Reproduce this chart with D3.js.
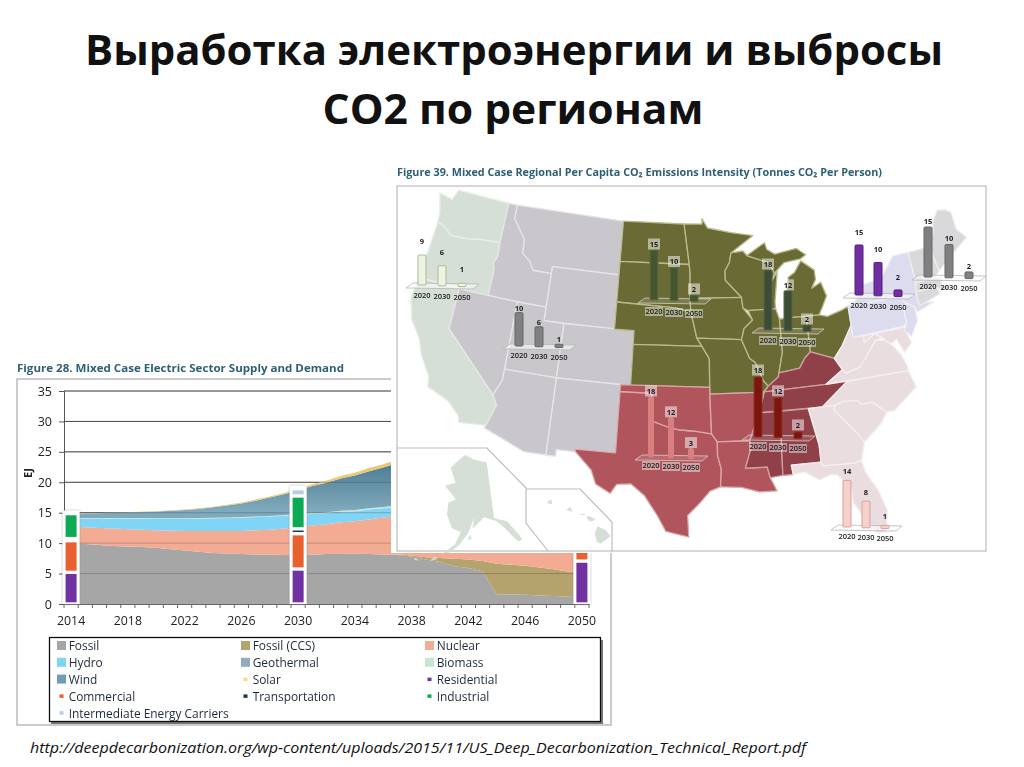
<!DOCTYPE html>
<html><head><meta charset="utf-8">
<script src="https://cdn.jsdelivr.net/npm/d3@7"></script>
<style>html,body{margin:0;padding:0;background:#fff}svg{display:block}text{font-family:"Open Sans",sans-serif}</style>
</head><body><svg id="c" width="1024" height="767"></svg>
<script>
// ---------- electric sector chart data (EJ) ----------
const years = d3.range(2014, 2051);
const tickYears = [2014,2018,2022,2026,2030,2034,2038,2042,2046,2050];
const yTicks = [0,5,10,15,20,25,30,35];
const fossil = [10.0,9.85,9.7,9.55,9.45,9.35,9.25,9.0,8.8,8.6,8.4,8.3,8.2,8.15,8.1,8.05,8.0,8.1,8.2,8.22,8.25,8.2,8.15,8.05,7.8,7.3,6.9,6.2,5.9,5.4,1.6,1.55,1.5,1.4,1.3,1.2,1.1];
const fossilCCS = [0,0,0,0,0,0,0,0,0,0,0,0,0,0,0,0,0,0,0,0,0,0,0,0.1,0.15,0.4,0.65,1.25,1.4,1.65,5.0,4.9,4.8,4.6,4.4,4.15,3.9];
const nuclear = [2.7,2.75,2.8,2.85,2.85,2.85,2.85,3.05,3.2,3.4,3.6,3.7,3.8,3.95,4.1,4.35,4.6,4.8,4.9,5.2,5.35,5.7,6.05,6.3,6.5,6.8,6.9,6.8,6.7,6.6,6.5,6.3,6,5.7,5.4,5.1,4.8];
const hydro = [1.3,1.4,1.5,1.6,1.7,1.8,1.85,1.9,1.95,2,2.05,2.1,2.15,2.15,2.15,2.1,2.0,1.9,1.8,1.7,1.6,1.6,1.5,1.5,1.5,1.5,1.5,1.5,1.5,1.5,1.5,1.5,1.5,1.5,1.5,1.5,1.5];
const geothermal = [0.03,0.03,0.03,0.03,0.03,0.03,0.03,0.03,0.03,0.03,0.03,0.03,0.03,0.03,0.03,0.03,0.03,0.03,0.03,0.03,0.03,0.03,0.03,0.03,0.03,0.03,0.03,0.03,0.03,0.03,0.03,0.03,0.03,0.03,0.03,0.03,0.03];
const biomass = [0.1,0.1,0.1,0.1,0.1,0.1,0.1,0.1,0.1,0.1,0.1,0.1,0.1,0.1,0.1,0.1,0.12,0.14,0.16,0.18,0.2,0.2,0.2,0.2,0.2,0.2,0.2,0.2,0.2,0.2,0.2,0.2,0.2,0.2,0.2,0.2,0.2];
const wind = [0.7,0.75,0.8,0.85,0.9,1.0,1.1,1.25,1.35,1.5,1.7,1.95,2.25,2.6,3.0,3.4,3.9,4.4,4.85,5.3,5.7,6.1,6.5,7,7.5,8,8.5,9,9.5,10,10.5,11,11.5,12,12.5,13,13.5];
const solar = [0,0.02,0.03,0.04,0.05,0.06,0.07,0.08,0.09,0.1,0.12,0.14,0.16,0.18,0.2,0.22,0.25,0.3,0.35,0.4,0.45,0.5,0.55,0.6,0.7,0.8,0.9,1,1.1,1.2,1.3,1.4,1.5,1.6,1.7,1.8,1.9];

const demandYears = [2014,2030,2050];
const residential = [5.2,5.75,7.05];
const commercial = [5.2,5.8,5.5];
const transportation = [0.35,0.8,3.0];
const industrial = [4.1,5.4,5.5];
const carriers = [0,1.2,2.0];

const supplyNames = ["Fossil","Fossil (CCS)","Nuclear","Hydro","Geothermal","Biomass","Wind","Solar"];
const supplySeries = [fossil,fossilCCS,nuclear,hydro,geothermal,biomass,wind,solar];
const supplyColors = ["#a6a6a6","#b5a36e","#f3ab94","#80d5f7","#93a9be","#c4e7d0","url(#windGrad)","#ecc876"];
const demandNames = ["Residential","Commercial","Transportation","Industrial","Intermediate Energy Carriers"];
const demandSeries = [residential,commercial,transportation,industrial,carriers];
const demandColors = ["#7030a0","#e8602f","#17375e","#0eaa52","#b8cce4"];

const legendNames = ["Fossil","Fossil (CCS)","Nuclear","Hydro","Geothermal","Biomass","Wind","Solar","Residential","Commercial","Transportation","Industrial","Intermediate Energy Carriers"];
const legendColors = ["#a6a6a6","#b5a36e","#f3ab94","#80d5f7","#93a9be","#c4e7d0","#6f9db1","#f6dc8a","#7030a0","#e8602f","#17375e","#0eaa52","#b8cce4"];
const legendIsArea = [1,1,1,1,1,1,1,0,0,0,0,0,0];

// ---------- map data: per-capita CO2 by region ----------
const barYears = ["2020","2030","2050"];
const pacificCO2 = [9,6,1];
const mountainCO2 = [10,6,1];
const westNorthCentralCO2 = [15,10,2];
const eastNorthCentralCO2 = [18,12,2];
const midAtlanticCO2 = [15,10,2];
const newEnglandCO2 = [15,10,2];
const westSouthCentralCO2 = [18,12,3];
const eastSouthCentralCO2 = [18,12,2];
const southAtlanticCO2 = [14,8,1];

const regionBars = [
 {values:pacificCO2,xs:[422,442,462],base:285,yearY:298,fill:"#eef3e2",stroke:"#a9bd93",boxed:false,gap:14,w:8},
 {values:mountainCO2,xs:[519,539,559],base:346,yearY:358,fill:"#808080",stroke:"#666",boxed:false,gap:5,w:8},
 {values:westNorthCentralCO2,xs:[654,674,694],base:300,yearY:314,fill:"#45552f",stroke:"#5d6d45",boxed:true,gap:6,w:8},
 {values:eastNorthCentralCO2,xs:[768,788,807],base:330,yearY:343,fill:"#3c4e34",stroke:"#55654a",boxed:true,gap:6,w:8},
 {values:midAtlanticCO2,xs:[859,878,898],base:295,yearY:308,fill:"#6f2da0",stroke:"#56207f",boxed:false,gap:13,w:8},
 {values:newEnglandCO2,xs:[928,949,969],base:277,yearY:289,fill:"#808080",stroke:"#666",boxed:false,gap:6,w:8},
 {values:westSouthCentralCO2,xs:[651,671,691],base:457,yearY:468,fill:"#d97f7f",stroke:"#d97f7f",boxed:true,gap:6,w:5},
 {values:eastSouthCentralCO2,xs:[758,778,798],base:437,yearY:449,fill:"#7a1510",stroke:"#93302a",boxed:true,gap:7,w:8},
 {values:southAtlanticCO2,xs:[847,866,885],base:527,yearY:539,fill:"#f6d0cb",stroke:"#d9a19b",boxed:false,gap:9,w:8}
];

const states = {
WA:[[[-124.7,48.4],[-123.2,48.2],[-122.8,49],[-117,49],[-117,46],[-119,45.9],[-120.5,45.7],[-122.2,45.6],[-123.4,46.2],[-124,46.3],[-124.1,47]]],
OR:[[[-124,46.3],[-123.4,46.2],[-122.2,45.6],[-120.5,45.7],[-119,45.9],[-117,46],[-116.9,45],[-117.2,44.4],[-117,44],[-117,42],[-124.2,42],[-124.5,42.8],[-124.1,44]]],
CA:[[[-124.2,42],[-120,42],[-120,39],[-114.6,35],[-114.1,34.3],[-114.7,32.7],[-117.1,32.5],[-117.3,33],[-118.4,33.8],[-119.2,34.1],[-120.6,34.5],[-120.7,35.2],[-121.9,36.6],[-122.5,37.7],[-123.7,38.9],[-124.4,40.4]]],
NV:[[[-120,42],[-114,42],[-114,36.2],[-114.6,35],[-120,39]]],
ID:[[[-117,49],[-116,49],[-116,48],[-114.5,46.6],[-114.4,45.6],[-113.5,45.1],[-113,44.5],[-111.05,44.5],[-111.05,42],[-117,42],[-117,44],[-117.2,44.4],[-116.9,45],[-117,46]]],
MT:[[[-116,49],[-104,49],[-104,45],[-111.05,45],[-111.05,44.5],[-113,44.5],[-113.5,45.1],[-114.4,45.6],[-114.5,46.6],[-116,48]]],
WY:[[[-111.05,45],[-104,45],[-104,41],[-111.05,41]]],
UT:[[[-114,42],[-111.05,42],[-111.05,41],[-109.05,41],[-109.05,37],[-114,37]]],
CO:[[[-109.05,41],[-102.05,41],[-102.05,37],[-109.05,37]]],
AZ:[[[-114,37],[-109.05,37],[-109.05,31.3],[-111,31.3],[-114.8,32.5],[-114.7,32.7],[-114.1,34.3],[-114.6,35],[-114,36.2]]],
NM:[[[-109.05,37],[-103,37],[-103,32],[-106.6,32],[-106.5,31.8],[-108.2,31.8],[-108.2,31.3],[-109.05,31.3]]],
ND:[[[-104,49],[-97.2,49],[-96.6,46],[-104,46]]],
SD:[[[-104,46],[-96.6,46],[-96.5,45.3],[-96.5,43.5],[-96.4,42.5],[-98,42.8],[-104,43]]],
NE:[[[-104,43],[-98,42.8],[-96.4,42.5],[-95.8,40.6],[-95.3,40],[-102.05,40],[-102.05,41],[-104,41]]],
KS:[[[-102.05,40],[-95.3,40],[-94.6,39.1],[-94.6,37],[-102.05,37]]],
MN:[[[-97.2,49],[-95.2,49],[-95.2,49.4],[-94.6,48.7],[-92,48.3],[-89.6,48],[-92.1,46.8],[-92.3,46.1],[-92.8,45.5],[-92.8,44.8],[-91.2,43.5],[-96.5,43.5],[-96.5,45.3],[-96.6,46]]],
IA:[[[-96.5,43.5],[-91.2,43.5],[-91.1,42.7],[-90.2,41.8],[-91.1,41.2],[-91.4,40.4],[-95.8,40.6],[-96.4,42.5]]],
MO:[[[-95.8,40.6],[-91.4,40.4],[-90.7,39],[-90.2,38.7],[-89.5,37.3],[-89.1,36.9],[-89.6,36.5],[-89.7,36],[-90.3,36],[-90.1,36.5],[-94.6,36.5],[-94.6,39.1],[-95.3,40]]],
WI:[[[-92.1,46.8],[-90.8,46.9],[-90.4,46.55],[-88.1,45.9],[-87.6,45.1],[-88,44.5],[-87.3,45.2],[-87.5,44.3],[-87.8,43],[-87.8,42.5],[-90.6,42.5],[-91.1,42.7],[-91.2,43.5],[-92.8,44.8],[-92.8,45.5],[-92.3,46.1]]],
MI:[[[-86.8,41.76],[-84.8,41.7],[-83.5,41.7],[-83.1,42.2],[-82.5,43],[-82.9,44.05],[-83.9,43.7],[-83.4,44.3],[-83.4,45],[-84.7,45.8],[-85.5,45],[-86.2,44.7],[-86.5,43.7],[-86.2,42.5]],
    [[-90.4,46.55],[-88.4,47.4],[-88.2,46.9],[-87.4,46.5],[-85,46.75],[-84.1,46.2],[-84.7,45.95],[-86.5,45.8],[-87.6,45.1],[-88.1,45.9]]],
IL:[[[-90.6,42.5],[-87.8,42.5],[-87.5,41.7],[-87.5,39.3],[-88,37.8],[-88.1,37.5],[-89.1,36.9],[-89.5,37.3],[-90.2,38.7],[-90.7,39],[-91.4,40.4],[-91.1,41.2],[-90.2,41.8]]],
IN:[[[-87.5,41.7],[-86.8,41.76],[-84.8,41.7],[-84.8,39.1],[-85.4,38.7],[-86,38],[-87,37.9],[-88,37.8],[-87.5,39.3]]],
OH:[[[-84.8,41.7],[-83.5,41.7],[-82.7,41.5],[-81.2,41.8],[-80.5,42],[-80.5,40.6],[-81.7,39.2],[-82.6,38.4],[-84.8,39.1]]],
KY:[[[-89.1,36.9],[-88.1,37.5],[-88,37.8],[-87,37.9],[-86,38],[-85.4,38.7],[-84.8,39.1],[-82.6,38.4],[-82,37.5],[-83.7,36.6],[-89.5,36.5]]],
TN:[[[-90.1,35],[-89.7,36],[-89.5,36.5],[-83.7,36.6],[-81.7,36.6],[-84.3,35]]],
MS:[[[-91.6,31],[-91,32.5],[-91.1,33],[-90.1,35],[-88.2,35],[-88.4,30.3],[-89.5,30.2],[-89.7,31]]],
AL:[[[-88.2,35],[-85.6,35],[-85,32.3],[-85,31],[-87.6,31],[-87.5,30.3],[-88.4,30.3]]],
AR:[[[-94.6,36.5],[-90.1,36.5],[-90.3,36],[-89.7,36],[-90.1,35],[-91.1,33],[-94,33],[-94.5,33.6]]],
LA:[[[-94,33],[-91.1,33],[-91,32.5],[-91.6,31],[-89.7,31],[-89.5,30.2],[-89,29.2],[-90.5,29.2],[-92,29.6],[-93.8,29.7],[-93.7,31],[-94,32]]],
OK:[[[-103,37],[-94.6,37],[-94.6,36.5],[-94.5,33.6],[-96,33.8],[-97.5,33.9],[-98.5,34.1],[-100,34.5],[-100,36.5],[-103,36.5]]],
TX:[[[-106.6,32],[-103,32],[-103,36.5],[-100,36.5],[-100,34.5],[-98.5,34.1],[-97.5,33.9],[-96,33.8],[-94.5,33.6],[-94,33],[-94,32],[-93.7,31],[-93.8,29.7],[-94.7,29.4],[-95.6,28.5],[-96.6,27.6],[-96.5,26],[-98.4,26.4],[-99.1,27.5],[-100.3,29],[-101.5,29.8],[-102.7,29.7],[-103.2,29],[-104.5,29.6],[-105,30.6],[-106.5,31.8]]],
FL:[[[-87.6,31],[-85,31],[-84.9,30.7],[-82.2,30.6],[-81.5,30.7],[-81.3,29.8],[-80.5,28.4],[-80,26.8],[-80.4,25.2],[-81.1,25.2],[-81.8,26.2],[-82.7,27.7],[-82.7,28.8],[-83.7,29.9],[-84.3,30],[-85.3,29.7],[-86.5,30.4],[-87.5,30.3]]],
GA:[[[-85.6,35],[-83.1,35],[-83.3,34.7],[-81.4,32.6],[-81,32],[-81.5,30.7],[-82.2,30.6],[-84.9,30.7],[-85,31],[-85,32.3]]],
SC:[[[-83.1,35],[-82.4,35.2],[-81,35.1],[-80.8,34.8],[-79.7,34.8],[-78.6,33.9],[-79.2,33.2],[-81,32],[-81.4,32.6],[-83.3,34.7]]],
NC:[[[-84.3,35],[-81.7,36.6],[-75.9,36.55],[-75.5,35.3],[-76.5,34.7],[-77.9,33.9],[-78.6,33.9],[-79.7,34.8],[-80.8,34.8],[-81,35.1],[-82.4,35.2],[-83.1,35]]],
VA:[[[-83.7,36.6],[-82,37.5],[-81.7,37.2],[-80.3,37.5],[-79.3,38.4],[-78.4,39.2],[-77.5,39.1],[-77,38.7],[-76.3,37.9],[-75.9,36.9],[-75.9,36.55]]],
WV:[[[-82.6,38.4],[-81.7,39.2],[-80.5,40.6],[-80.5,39.7],[-79.5,39.7],[-79.5,39.2],[-78.4,39.7],[-77.7,39.3],[-78.4,39.2],[-79.3,38.4],[-80.3,37.5],[-81.7,37.2],[-82,37.5]]],
MD:[[[-79.5,39.7],[-75.8,39.7],[-75.5,39.8],[-75.05,38.5],[-75.9,37.9],[-76.4,39],[-77,38.7],[-77.5,39.1],[-77.7,39.3],[-78.4,39.7],[-79.5,39.2]]],
PA:[[[-80.5,42],[-79.8,42.25],[-79.8,42],[-75.3,42],[-74.7,41.4],[-75.1,40.9],[-75.1,40],[-75.5,39.8],[-80.5,39.7]]],
NY:[[[-79.8,42],[-79.8,42.25],[-78.9,42.9],[-79.1,43.3],[-76.8,43.6],[-76.2,44],[-75,45],[-73.35,45],[-73.3,42.7],[-73.5,41.3],[-72,41],[-73.8,40.6],[-74,41],[-74.7,41.4],[-75.3,42]]],
NJ:[[[-74.7,41.4],[-74,41],[-74,40],[-74.9,38.95],[-75.5,39.5],[-75.1,40],[-75.1,40.9]]],
VT:[[[-73.35,45],[-71.5,45],[-72.5,42.7],[-73.3,42.7]]],
NH:[[[-71.5,45],[-71.1,45.3],[-70.7,43.1],[-71.3,42.7],[-72.5,42.7]]],
ME:[[[-71.1,45.3],[-70.3,45.9],[-70,46.7],[-69.2,47.45],[-68.3,47.3],[-67.8,47],[-67.8,45.7],[-67,44.9],[-69,44],[-70.7,43.1]]],
MA:[[[-73.5,42.05],[-73.3,42.7],[-71.3,42.7],[-70.7,42.6],[-70.9,42],[-70,41.8],[-70.6,41.6],[-71.4,42]]],
CT:[[[-73.5,42.05],[-71.4,42],[-71.2,41.5],[-72,41.3],[-73.5,41]]]
};
const regions = [
 {states:["WA","OR","CA"],fill:"#d6dfd6",line:"#e8eee8"},
 {states:["ID","MT","WY","NV","UT","CO","AZ","NM"],fill:"#c9c7cc",line:"#e6e5e8"},
 {states:["ND","SD","NE","KS","MN","IA","MO","WI","MI","IL","IN","OH"],fill:"#6b6a35",line:"#b9b98e"},
 {states:["TX","OK","AR","LA"],fill:"#b1555d",line:"#dba7a9"},
 {states:["KY","TN","MS","AL"],fill:"#903f48",line:"#cf9fa2"},
 {states:["FL","GA","SC","NC","VA","WV","MD"],fill:"#eadde0",line:"#f6eff0"},
 {states:["PA","NY","NJ"],fill:"#dddcee",line:"#eeeef8"},
 {states:["VT","NH","ME","MA","CT"],fill:"#d9d9db",line:"#eeeeef"}
];
const alaska = [
 [[-156.5,71.3],[-150,70.5],[-141,69.6],[-141,60.3],[-139,59.9],[-135,59],[-131,56],[-130.2,55],[-132,55],[-135,57],[-137,58.3],[-140,59.7],[-146,60.8],[-149,60],[-152,59.2],[-151,61],[-154,58.5],[-158,56.5],[-162,55],[-165,54.6],[-160,56.5],[-157.5,58.6],[-162,59],[-165,61],[-165,63],[-161,63.8],[-168,65.6],[-162,66.5],[-166,68.8],[-161,70.3]],
 [[-154.5,57.3],[-152.5,57.5],[-153,58.2]],
 [[-170,52.8],[-167,53.4],[-168,53.7]],
 [[-176,51.8],[-174,52.1],[-176,52.2]]];
const hawaii = [
 [[-155.9,19.1],[-155.6,18.95],[-154.85,19.5],[-155.2,19.95],[-155.85,20.25],[-156.05,19.7]],
 [[-156.7,20.9],[-156.4,20.6],[-156,20.75],[-156.3,20.95],[-156.6,21.03]],
 [[-158.25,21.5],[-157.75,21.3],[-157.95,21.7]],
 [[-159.75,22],[-159.35,21.9],[-159.35,22.2],[-159.6,22.2]],
 [[-157.3,21.1],[-156.75,21.1],[-156.9,21.2]]];

// ---------- drawing ----------
const svg = d3.select("#c");
const defs = svg.append("defs");
const wg = defs.append("linearGradient").attr("id","windGrad").attr("gradientUnits","userSpaceOnUse").attr("x1",0).attr("x2",0).attr("y1",450).attr("y2",510);
wg.append("stop").attr("offset",0).attr("stop-color","#3f7088");
wg.append("stop").attr("offset",1).attr("stop-color","#7fa9bc");
defs.append("filter").attr("id","soft").append("feGaussianBlur").attr("stdDeviation",0.45);
defs.append("filter").attr("id","soft2").append("feGaussianBlur").attr("stdDeviation",0.3);
const sh = defs.append("filter").attr("id","halo").attr("x","-40%").attr("width","180%");
sh.append("feDropShadow").attr("dx",0).attr("dy",0).attr("stdDeviation",1.2).attr("flood-color","#888").attr("flood-opacity",.7);

// title
const title = svg.append("g").attr("font-weight",700).attr("fill","#111");
title.append("text").attr("x",514).attr("y",65).attr("text-anchor","middle").attr("font-size",42)
  .attr("textLength",858).attr("lengthAdjust","spacingAndGlyphs").text("Выработка электроэнергии и выбросы");
title.append("text").attr("x",513).attr("y",124).attr("text-anchor","middle").attr("font-size",42)
  .attr("textLength",381).attr("lengthAdjust","spacingAndGlyphs").text("СО2 по регионам");

// chart frame
const chart = svg.append("g").attr("filter","url(#soft2)");
chart.append("text").attr("x",17).attr("y",372).attr("font-size",11.3).attr("font-weight",700).attr("fill","#2f6073")
 .attr("textLength",327).attr("lengthAdjust","spacingAndGlyphs").text("Figure 28. Mixed Case Electric Sector Supply and Demand");
chart.append("rect").attr("x",17).attr("y",379).attr("width",594).attr("height",346).attr("fill","#fff").attr("stroke","#a9a9a9").attr("stroke-width",1.2);

const x = d3.scaleBand().domain(years).range([64,589]);
const y = d3.scaleLinear().domain([0,35]).range([604,391]);
const cx = d => x(d)+x.bandwidth()/2;

chart.append("g").selectAll("line").data(yTicks.slice(1)).join("line")
 .attr("x1",64).attr("x2",589).attr("y1",d=>y(d)).attr("y2",d=>y(d)).attr("stroke","#555").attr("stroke-width",1);

const rows = years.map((yr,i)=>{const o={year:yr};supplyNames.forEach((n,k)=>o[n]=supplySeries[k][i]);return o;});
const stacked = d3.stack().keys(supplyNames)(rows);
const area = d3.area().x(d=>cx(d.data.year)).y0(d=>y(d[0])).y1(d=>y(d[1]));
chart.append("g").selectAll("path").data(stacked).join("path").attr("d",area).attr("fill",(d,i)=>supplyColors[i]);

const yAxis = chart.append("g").attr("transform","translate(64,0)").call(d3.axisLeft(y).tickValues(yTicks).tickSize(5).tickPadding(7));
yAxis.selectAll("text").attr("font-size",12.5).attr("fill","#222");
yAxis.selectAll("line,path").attr("stroke","#555");
chart.append("g").selectAll("line").data(yTicks.slice(1)).join("line")
 .attr("x1",64).attr("x2",589).attr("y1",d=>y(d)).attr("y2",d=>y(d)).attr("stroke","#333").attr("stroke-opacity",.28).attr("stroke-width",1);
const xAxis = chart.append("g").attr("transform","translate(0,604)").call(d3.axisBottom(x).tickValues(tickYears).tickSizeOuter(0).tickSize(0).tickPadding(12));
xAxis.select("path").attr("stroke","#666");
xAxis.selectAll("text").attr("font-size",12.3).attr("fill","#222");
chart.append("g").selectAll("line").data(d3.range(0,38)).join("line")
 .attr("x1",i=>64+i*x.step()).attr("x2",i=>64+i*x.step()).attr("y1",604).attr("y2",608).attr("stroke","#666");
chart.append("text").attr("transform","translate(32,473) rotate(-90)").attr("text-anchor","middle").attr("font-size",11).attr("font-weight",700).attr("fill","#222").text("EJ");

// demand stacks
const demandRows = demandYears.map((yr,i)=>{const o={year:yr};demandNames.forEach((n,k)=>o[n]=demandSeries[k][i]);return o;});
const demandStack = d3.stack().keys(demandNames)(demandRows);
const totals = demandYears.map((_,i)=>demandStack[demandStack.length-1][i][1]);
const barW = 11;
const gap = 0.55;
chart.append("g").selectAll("rect").data(demandYears).join("rect")
 .attr("x",d=>cx(d)-barW/2-3).attr("width",barW+6)
 .attr("y",(d,i)=>y(totals[i])-3).attr("height",(d,i)=>y(0)-y(totals[i])+3)
 .attr("fill","#fff").attr("filter","url(#halo)");
demandStack.forEach((s,k)=>{
 chart.append("g").selectAll("rect").data(s.filter(d=>d[1]-d[0]>gap)).join("rect")
  .attr("x",d=>cx(d.data.year)-barW/2).attr("width",barW)
  .attr("y",d=>y(d[1]-gap/2)).attr("height",d=>Math.max(1,y(d[0]+gap/2)-y(d[1]-gap/2)))
  .attr("fill",demandColors[k]);
});

// legend
const legend = chart.append("g");
legend.append("rect").attr("x",51).attr("y",640).attr("width",552).attr("height",84).attr("fill","#777");
legend.append("rect").attr("x",49.5).attr("y",637.5).attr("width",551).attr("height",84).attr("fill","#fff").attr("stroke","#111").attr("stroke-width",1.3);
const colX = [57,241,425];
legendNames.forEach((name,i)=>{
 const c = colX[i%3], ry = 646+Math.floor(i/3)*16.8;
 if(legendIsArea[i]) legend.append("rect").attr("x",c).attr("y",ry-5).attr("width",9).attr("height",9).attr("fill",legendColors[i]);
 else legend.append("rect").attr("x",c+2.5).attr("y",ry-2).attr("width",4).attr("height",3.5).attr("fill",legendColors[i]);
 legend.append("text").attr("x",c+11.7).attr("y",ry+4.3).attr("font-size",11.9).attr("fill","#1f2a3a").text(name);
});

// white map panel
svg.append("rect").attr("x",391).attr("y",160).attr("width",610).attr("height",393).attr("fill","#fff");
const map = svg.append("g").attr("filter","url(#soft)");
map.append("text").attr("x",397).attr("y",176).attr("font-size",11.3).attr("font-weight",700).attr("fill","#2f6073")
 .attr("textLength",485).attr("lengthAdjust","spacingAndGlyphs").text("Figure 39. Mixed Case Regional Per Capita CO₂ Emissions Intensity (Tonnes CO₂ Per Person)");
map.append("rect").attr("x",397).attr("y",186).attr("width",589).attr("height",365).attr("fill","#fff").attr("stroke","#bdbdbd").attr("stroke-width",1.2);

const albers = d3.geoConicEqualArea().parallels([29.5,45.5]).rotate([96,0]).center([0,37.5]).scale(1000).translate([0,0]);
const mapX = d3.scaleLinear().domain([albers([-124.7,48.4])[0],albers([-95.2,49])[0],albers([-69.2,47.45])[0]]).range([440,702,937]);
const mapY = d3.scaleLinear().domain([albers([-97.2,26])[1],albers([-124.7,48.4])[1]]).range([537,193]);
const poly = d3.line().x(p=>mapX(albers(p)[0])).y(p=>mapY(albers(p)[1]));
regions.forEach(rg=>{
 const g = map.append("g");
 rg.states.forEach(s=>states[s].forEach(ring=>{
   g.append("path").attr("d",poly(ring)+"Z").attr("fill",rg.fill).attr("stroke",rg.line).attr("stroke-width",1.3).attr("stroke-linejoin","round");
 }));
});

// insets
const insetLine = d3.line();
const akAlbers = d3.geoConicEqualArea().parallels([55,65]).rotate([154,0]).center([0,62]).scale(1000).translate([0,0]);
const akX = d3.scaleLinear().domain([akAlbers([-156.5,71.3])[0],akAlbers([-141,60.3])[0]]).range([465,494]);
const akY = d3.scaleLinear().domain([akAlbers([-156.5,71.3])[1],akAlbers([-141,60.3])[1]]).range([455,518]);
const akLine = d3.line().x(p=>akX(akAlbers(p)[0])).y(p=>akY(akAlbers(p)[1]));
alaska.forEach(r=>map.append("path").attr("d",akLine(r)+"Z").attr("fill","#d6dfd6"));
const hiX = d3.scaleLinear().domain([-159.5,-155.5]).range([550,602]);
const hiY = d3.scaleLinear().domain([22,19.6]).range([503,535]);
const hiLine = d3.line().x(p=>hiX(p[0])).y(p=>hiY(p[1]));
hawaii.forEach(r=>map.append("path").attr("d",hiLine(r)+"Z").attr("fill","#d6dfd6"));
const insetFrames = [[[397,448],[487,448],[526,488],[526,523],[548,551]],[[526,489],[580,489],[612,522],[612,551]]];
insetFrames.forEach(f=>map.append("path").attr("d",insetLine(f)).attr("fill","none").attr("stroke","#bdbdbd").attr("stroke-width",1.2));

// regional bars
const barH = d3.scaleLinear().domain([0,18]).range([0,60]);
const gb = map.append("g");
regionBars.forEach(g=>{
 gb.append("path").attr("d",insetLine([[g.xs[0]-16,g.base+3],[g.xs[0]-9,g.base-2],[g.xs[2]+17,g.base-1],[g.xs[2]+11,g.base+4],[g.xs[0]-16,g.base+3]]))
   .attr("fill","#fff").attr("fill-opacity",g.boxed?.12:.55).attr("stroke",g.boxed?"#d0d0c0":"#b5b5b5").attr("stroke-width",.8);
 g.values.forEach((v,i)=>{
  const b = g.base+i*0.8, h = barH(v), bx = g.xs[i];
  gb.append("rect").attr("x",bx-g.w/2).attr("y",b-h).attr("width",g.w).attr("height",h).attr("rx",1)
    .attr("fill",g.fill).attr("stroke",g.stroke).attr("stroke-width",1);
  const lc = b-h-g.gap;
  if(g.boxed) gb.append("rect").attr("x",bx-6).attr("y",lc-5.5).attr("width",12).attr("height",11).attr("fill","#fff").attr("fill-opacity",.5);
  gb.append("text").attr("x",bx).attr("y",lc+3).attr("text-anchor","middle").attr("font-size",7.5).attr("font-weight",700).attr("fill","#222").text(v);
  const yy = g.yearY+i*1;
  if(g.boxed) gb.append("rect").attr("x",bx-9).attr("y",yy-7).attr("width",18).attr("height",9).attr("fill","#fff").attr("fill-opacity",.45);
  gb.append("text").attr("x",bx).attr("y",yy).attr("text-anchor","middle").attr("font-size",7.5).attr("font-weight",600).attr("fill","#222").text(barYears[i]);
 });
});

// source
svg.append("text").attr("x",30).attr("y",753).attr("font-size",15).attr("font-style","italic").attr("fill","#111")
 .attr("textLength",776).attr("lengthAdjust","spacingAndGlyphs")
 .text("http://deepdecarbonization.org/wp-content/uploads/2015/11/US_Deep_Decarbonization_Technical_Report.pdf");
</script></body></html>
